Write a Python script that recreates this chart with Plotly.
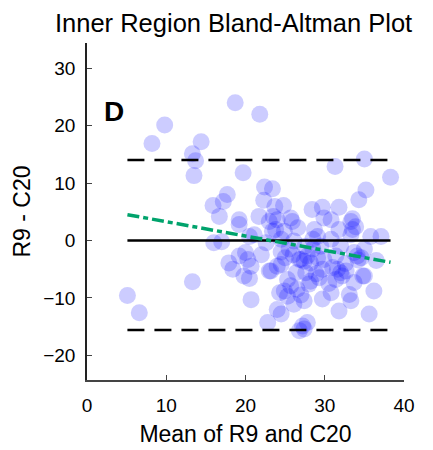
import plotly.graph_objects as go

# Bland-Altman data: mean of the two methods vs. their difference
mean_vals = [
    8.2, 9.8, 18.7, 21.8, 14.4, 13.3, 13.7, 13.5, 19.7, 17.7, 17.2, 15.9, 16.7, 19.2,
    31.3, 35.0, 38.3, 35.2, 34.3, 22.4, 23.4, 22.3, 23.7, 24.8, 21.7, 28.4, 29.7, 31.8,
    33.5, 25.7, 23.5, 19.2, 23.0, 24.0, 21.1, 23.4, 33.3, 33.9, 33.5, 25.9, 26.6, 28.7,
    30.8, 35.8, 29.9, 31.8, 23.8, 24.5, 24.9, 26.1, 22.6, 20.5, 16.0, 17.0, 20.0, 19.2,
    20.3, 17.9, 18.4, 20.7, 19.8, 20.5, 13.3, 20.7, 23.0, 24.0, 24.3, 24.5, 22.8, 5.1,
    6.6, 33.7, 34.1, 32.0, 31.6, 32.2, 34.8, 36.2, 33.1, 35.6, 29.7, 30.8, 25.3, 24.9,
    26.1, 27.4, 26.8, 27.4, 27.6, 28.2, 26.4, 27.8, 27.4, 26.8, 24.0, 31.0, 31.4, 32.7,
    34.6, 33.3, 37.1, 29.1, 28.5, 30.8, 31.4, 29.9, 29.1, 33.7, 27.0, 27.8, 28.2, 23.2,
    24.5, 25.7, 25.3, 27.2, 28.0, 33.3, 31.8, 35.0, 29.7, 29.3, 25.5, 26.0, 27.5, 28.5,
    25.0, 24.5, 22.0, 29.5, 32.0, 35.0, 36.5, 30.5, 26.5, 27.0, 34.2, 32.6, 28.9,
]
diff_vals = [
    16.9, 20.1, 24.0, 22.0, 17.2, 15.1, 13.9, 11.3, 11.8, 8.0, 6.8, 6.1, 4.2, 3.6,
    12.9, 14.2, 11.0, 8.8, 7.1, 9.3, 9.0, 7.0, 5.9, 6.1, 4.2, 5.4, 5.8, 5.8,
    3.8, 3.9, 4.2, 2.8, 3.3, 3.6, 1.0, 1.6, 3.3, 2.4, 1.9, 3.3, 2.2, 1.9,
    3.6, 0.7, 3.9, 1.9, 1.9, 0.2, 1.6, -0.1, -0.4, 0.7, -0.4, -0.2, -2.1, -2.7,
    -3.3, -3.9, -5.0, -4.5, -6.2, -6.6, -7.2, -10.3, -5.3, -4.5, -9.1, -12.8, -14.3, -9.6,
    -12.6, -2.1, -2.7, -5.6, -5.0, -6.2, -6.2, -8.8, -9.4, -12.8, -10.2, -9.1, -6.8, -8.8,
    -11.1, -10.5, -3.3, -3.6, -5.6, -7.1, -5.6, -14.3, -15.4, -15.7, -12.0, -4.7, -6.8, -5.3,
    -3.0, 1.0, 0.7, 0.7, 0.2, 0.2, -2.7, -3.3, -3.0, -7.3, -3.3, -2.7, -3.9, -5.3,
    -4.2, -7.9, -9.7, -14.9, -7.6, -10.5, -12.3, -6.2, -5.0, -6.5, -1.5, -2.5, -1.0, -1.5,
    -3.0, -2.0, -2.5, -1.0, -1.0, -1.5, -3.5, -7.5, -8.5, -9.5, -3.4, -4.0, -5.8,
]

bias = 0.0
upper_loa = 14.0
lower_loa = -15.6
trend_y = [4.5, -3.8]   # regression of difference on mean, at the ends

x_ends = [min(mean_vals), max(mean_vals)]

fig = go.Figure()
fig.add_trace(go.Scatter(x=mean_vals, y=diff_vals, mode='markers',
                         marker=dict(size=17, color='rgba(0,0,255,0.2)', line=dict(width=0)),
                         showlegend=False))
fig.add_trace(go.Scatter(x=x_ends, y=[bias, bias], mode='lines',
                         line=dict(color='black', width=2.5), showlegend=False))
for lim in [upper_loa, lower_loa]:
    fig.add_trace(go.Scatter(x=x_ends, y=[lim, lim], mode='lines',
                             line=dict(color='black', width=2.5, dash='17px,10px'),
                             showlegend=False))
fig.add_trace(go.Scatter(x=x_ends, y=trend_y, mode='lines',
                         line=dict(color='#00a36c', width=3.5, dash='12px,4px,5px,4px'),
                         showlegend=False))

fig.update_layout(
    width=433, height=450,
    margin=dict(l=79, r=37, t=35, b=78),
    paper_bgcolor='white', plot_bgcolor='white',
    font=dict(family='Liberation Sans, Arial, sans-serif', color='black'),
    title=dict(text='Inner Region Bland-Altman Plot', x=0.521, xanchor='center',
               y=0.967, yanchor='middle', font=dict(size=25.5)),
    xaxis=dict(range=[0, 40], tickvals=[0, 10, 20, 30, 40], ticks='inside', ticklen=5,
               showline=True, linecolor='#444', linewidth=1.5, showgrid=False, zeroline=False,
               tickfont=dict(size=19), ticklabelstandoff=7,
               title=dict(text='Mean of R9 and C20', font=dict(size=23), standoff=11)),
    yaxis=dict(range=[-24.3, 34.4], tickvals=[-20, -10, 0, 10, 20, 30], ticks='inside',
               ticklen=5, showline=True, linecolor='#222', linewidth=1.5, showgrid=False,
               zeroline=False, tickfont=dict(size=19), ticklabelstandoff=6,
               title=dict(text='R9 - C20', font=dict(size=23), standoff=6)),
    annotations=[dict(x=3.4, y=22.4, xref='x', yref='y', text='<b>D</b>', showarrow=False,
                      font=dict(size=28, color='black'))],
)

fig.write_html("out.html")
